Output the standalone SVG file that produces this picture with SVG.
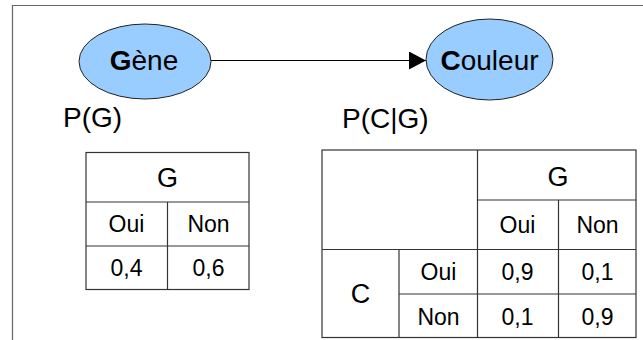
<svg xmlns="http://www.w3.org/2000/svg" width="643" height="340" viewBox="0 0 643 340">
<style>
text{font-family:"Liberation Sans",Arial,sans-serif;fill:#000}
.node{fill:#99ccff;stroke:#222;stroke-width:1}
.cell{fill:none;stroke:#333;stroke-width:1.2}
.lbl{font-size:28px}
.hd{font-size:27px;text-anchor:middle}
.t{font-size:23px;text-anchor:middle}
.frame{stroke:#666;stroke-width:1.2;fill:none}
</style>
<defs>
<marker id="arr" markerWidth="18" markerHeight="18" refX="17" refY="9" orient="auto" markerUnits="userSpaceOnUse">
<path d="M0,0 L17,9 L0,18 Z" fill="#000"/>
</marker>
</defs>
<rect width="643" height="340" fill="#fff"/>
<path class="frame" d="M12.5,340 V5.5 H643"/>
<g id="connectors">
<line x1="211" y1="60.5" x2="426" y2="60.5" stroke="#000" stroke-width="1.2" marker-end="url(#arr)"/>
</g>
<g id="gene">
<ellipse class="node" cx="145" cy="61.5" rx="66" ry="37.5"/>
<text class="lbl" x="144" y="70" text-anchor="middle"><tspan font-weight="bold">G</tspan>ène</text>
</g>
<g id="couleur">
<ellipse class="node" cx="489.5" cy="59.5" rx="63.5" ry="40.5"/>
<text class="lbl" x="489.5" y="70" text-anchor="middle"><tspan font-weight="bold">C</tspan>ouleur</text>
</g>
<g id="label-pg">
<text class="lbl" x="63" y="127">P(G)</text>
</g>
<g id="label-pcg">
<text class="lbl" x="342" y="128">P(C|G)</text>
</g>
<g id="table-g">
<rect class="cell" x="86" y="152.5" width="163" height="137"/>
<line class="cell" x1="86" y1="202" x2="249" y2="202"/>
<line class="cell" x1="86" y1="246" x2="249" y2="246"/>
<line class="cell" x1="167.5" y1="202" x2="167.5" y2="289.5"/>
<text class="hd" x="167.5" y="186.5">G</text>
<text class="t" x="126.5" y="232">Oui</text>
<text class="t" x="208.5" y="232">Non</text>
<text class="t" x="126.5" y="276">0,4</text>
<text class="t" x="208.5" y="276">0,6</text>
</g>
<g id="table-cg">
<rect class="cell" x="322" y="150" width="314" height="187.5"/>
<line class="cell" x1="322" y1="249.5" x2="636" y2="249.5"/>
<line class="cell" x1="477.5" y1="200" x2="636" y2="200"/>
<line class="cell" x1="399" y1="294" x2="636" y2="294"/>
<line class="cell" x1="477.5" y1="150" x2="477.5" y2="337.5"/>
<line class="cell" x1="558.5" y1="200" x2="558.5" y2="337.5"/>
<line class="cell" x1="399" y1="249.5" x2="399" y2="337.5"/>
<text class="hd" x="558" y="185.5">G</text>
<text class="t" x="517.5" y="233">Oui</text>
<text class="t" x="597.5" y="233">Non</text>
<text class="hd" x="360.5" y="303">C</text>
<text class="t" x="438.5" y="279.5">Oui</text>
<text class="t" x="438.5" y="324.5">Non</text>
<text class="t" x="517.5" y="279.5">0,9</text>
<text class="t" x="597.5" y="279.5">0,1</text>
<text class="t" x="517.5" y="324.5">0,1</text>
<text class="t" x="597.5" y="324.5">0,9</text>
</g>
</svg>
